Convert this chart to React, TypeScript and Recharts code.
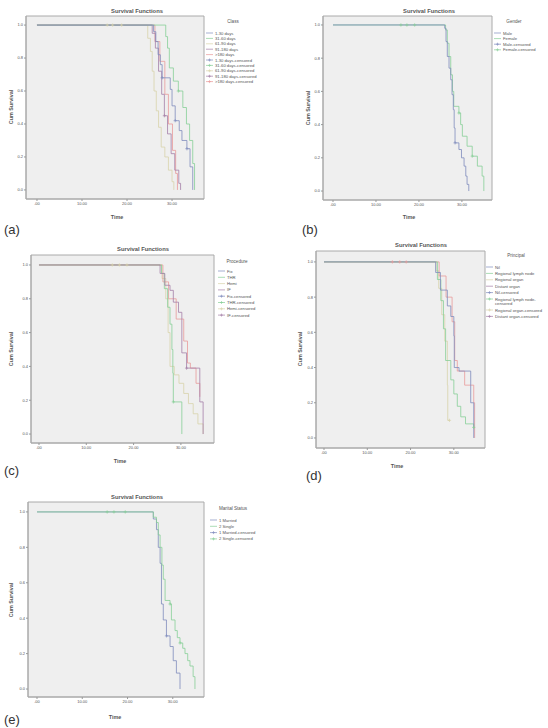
import React from 'react';
import { LineChart, Line, XAxis, YAxis, CartesianGrid, ReferenceArea } from 'recharts';

type Pt = { t: number; s: number };

// ---------- tick labels ----------
const X_TICKS = [0, 10, 20, 30];
const X_TICK_LABELS = ['.00', '10.00', '20.00', '30.00'];
const Y_TICKS = [0, 0.2, 0.4, 0.6, 0.8, 1.0];
const Y_TICK_LABELS = ['0.0', '0.2', '0.4', '0.6', '0.8', '1.0'];

// ---------- panel (a) ----------
const a1: Pt[] = [{ t: 0, s: 1 }, { t: 25.9, s: 0.96 }, { t: 26.4, s: 0.9 }, { t: 26.9, s: 0.82 }, { t: 27.4, s: 0.76 }, { t: 27.8, s: 0.68 }, { t: 29.6, s: 0.61 }, { t: 30.0, s: 0.51 }, { t: 30.7, s: 0.42 }, { t: 31.6, s: 0.36 }, { t: 32.2, s: 0.3 }, { t: 33.3, s: 0.25 }, { t: 34.0, s: 0.14 }, { t: 34.6, s: 0 }];
const a2: Pt[] = [{ t: 0, s: 1 }, { t: 28.6, s: 0.93 }, { t: 29.0, s: 0.86 }, { t: 29.4, s: 0.74 }, { t: 30.3, s: 0.66 }, { t: 31.4, s: 0.6 }, { t: 32.4, s: 0.5 }, { t: 33.2, s: 0.4 }, { t: 33.9, s: 0.3 }, { t: 34.6, s: 0.16 }, { t: 35.0, s: 0 }];
const a3: Pt[] = [{ t: 0, s: 1 }, { t: 24.6, s: 0.92 }, { t: 25.2, s: 0.84 }, { t: 25.6, s: 0.72 }, { t: 26.0, s: 0.6 }, { t: 26.5, s: 0.48 }, { t: 27.0, s: 0.38 }, { t: 27.6, s: 0.26 }, { t: 28.4, s: 0.2 }, { t: 29.2, s: 0.12 }, { t: 30.0, s: 0.05 }, { t: 30.4, s: 0 }];
const a4: Pt[] = [{ t: 0, s: 1 }, { t: 25.6, s: 0.95 }, { t: 26.3, s: 0.86 }, { t: 27.0, s: 0.72 }, { t: 27.7, s: 0.58 }, { t: 28.3, s: 0.45 }, { t: 29.0, s: 0.34 }, { t: 29.8, s: 0.22 }, { t: 30.6, s: 0.12 }, { t: 31.5, s: 0.04 }, { t: 31.9, s: 0 }];
const a5: Pt[] = [{ t: 0, s: 1 }, { t: 26.2, s: 0.9 }, { t: 27.3, s: 0.78 }, { t: 28.4, s: 0.58 }, { t: 29.2, s: 0.4 }, { t: 30.1, s: 0.24 }, { t: 30.8, s: 0.1 }, { t: 31.2, s: 0 }];
const aCensTan: Pt[] = [{ t: 15.6, s: 1 }, { t: 16.8, s: 1 }, { t: 18.8, s: 1 }];
const aCensBlue: Pt[] = [{ t: 27.8, s: 0.68 }, { t: 30.7, s: 0.42 }, { t: 33.3, s: 0.25 }];
const aCensGreen: Pt[] = [{ t: 31.4, s: 0.6 }];
const aCensPurple: Pt[] = [{ t: 28.3, s: 0.45 }];
const aGroups = ['1-30 days', '31-60 days', '61-90 days', '91-180 days', '>180 days'];

// ---------- panel (b) ----------
const b1: Pt[] = [{ t: 0, s: 1 }, { t: 26.0, s: 0.98 }, { t: 26.3, s: 0.9 }, { t: 26.6, s: 0.81 }, { t: 27.0, s: 0.74 }, { t: 27.4, s: 0.67 }, { t: 27.7, s: 0.58 }, { t: 28.0, s: 0.49 }, { t: 28.2, s: 0.38 }, { t: 28.4, s: 0.29 }, { t: 29.3, s: 0.25 }, { t: 29.9, s: 0.2 }, { t: 30.5, s: 0.15 }, { t: 30.9, s: 0.09 }, { t: 31.2, s: 0.04 }, { t: 31.6, s: 0 }];
const b2: Pt[] = [{ t: 0, s: 1 }, { t: 26.2, s: 0.97 }, { t: 26.6, s: 0.89 }, { t: 27.0, s: 0.81 }, { t: 27.4, s: 0.7 }, { t: 27.8, s: 0.6 }, { t: 28.1, s: 0.51 }, { t: 29.3, s: 0.47 }, { t: 29.7, s: 0.4 }, { t: 30.1, s: 0.33 }, { t: 31.2, s: 0.27 }, { t: 32.4, s: 0.21 }, { t: 33.6, s: 0.15 }, { t: 34.7, s: 0.09 }, { t: 35.1, s: 0 }];
const bCensGreen: Pt[] = [{ t: 15.8, s: 1 }, { t: 17.2, s: 1 }, { t: 19.0, s: 1 }, { t: 29.3, s: 0.47 }, { t: 32.4, s: 0.21 }];
const bCensBlue: Pt[] = [{ t: 28.4, s: 0.29 }];
const bGroups = ['Male', 'Female'];

// ---------- panel (c) ----------
const c1: Pt[] = [{ t: 0, s: 1 }, { t: 25.6, s: 0.95 }, { t: 26.6, s: 0.88 }, { t: 27.7, s: 0.85 }, { t: 28.4, s: 0.78 }, { t: 29.5, s: 0.72 }, { t: 30.2, s: 0.48 }, { t: 31.2, s: 0.39 }, { t: 34.0, s: 0.19 }, { t: 34.7, s: 0 }];
const c2: Pt[] = [{ t: 0, s: 1 }, { t: 25.9, s: 0.95 }, { t: 26.5, s: 0.86 }, { t: 27.2, s: 0.75 }, { t: 27.7, s: 0.65 }, { t: 28.1, s: 0.5 }, { t: 28.3, s: 0.36 }, { t: 28.4, s: 0.19 }, { t: 30.2, s: 0 }];
const c3: Pt[] = [{ t: 0, s: 1 }, { t: 26.0, s: 0.92 }, { t: 26.8, s: 0.8 }, { t: 27.3, s: 0.6 }, { t: 27.7, s: 0.4 }, { t: 28.6, s: 0.35 }, { t: 29.6, s: 0.3 }, { t: 30.6, s: 0.24 }, { t: 31.6, s: 0.18 }, { t: 32.6, s: 0.12 }, { t: 33.6, s: 0.06 }, { t: 34.7, s: 0 }];
const c4: Pt[] = [{ t: 0, s: 1 }, { t: 26.2, s: 0.9 }, { t: 27.4, s: 0.8 }, { t: 29.0, s: 0.68 }, { t: 30.6, s: 0.55 }, { t: 31.4, s: 0.42 }, { t: 32.0, s: 0.39 }, { t: 33.2, s: 0.3 }, { t: 34.0, s: 0.22 }];
const cCensTan: Pt[] = [{ t: 15.5, s: 1 }, { t: 17.0, s: 1 }, { t: 18.6, s: 1 }];
const cCensPurple: Pt[] = [{ t: 31.2, s: 0.39 }];
const cCensGreen: Pt[] = [{ t: 28.4, s: 0.19 }];
const cGroups = ['Fix', 'THR', 'Hemi', 'IF'];

// ---------- panel (d) ----------
const d1: Pt[] = [{ t: 0, s: 1 }, { t: 25.8, s: 0.94 }, { t: 26.9, s: 0.84 }, { t: 28.5, s: 0.75 }, { t: 29.3, s: 0.69 }, { t: 30.0, s: 0.58 }, { t: 30.1, s: 0.4 }, { t: 31.2, s: 0.38 }, { t: 33.9, s: 0.2 }, { t: 34.6, s: 0 }];
const d2: Pt[] = [{ t: 0, s: 1 }, { t: 26.2, s: 0.9 }, { t: 27.0, s: 0.78 }, { t: 27.6, s: 0.62 }, { t: 28.1, s: 0.44 }, { t: 29.3, s: 0.33 }, { t: 30.0, s: 0.25 }, { t: 30.8, s: 0.18 }, { t: 31.6, s: 0.12 }, { t: 32.7, s: 0.08 }, { t: 34.6, s: 0.06 }];
const d3: Pt[] = [{ t: 0, s: 1 }, { t: 25.9, s: 0.95 }, { t: 26.5, s: 0.85 }, { t: 27.2, s: 0.7 }, { t: 27.9, s: 0.55 }, { t: 28.5, s: 0.3 }, { t: 28.6, s: 0.1 }, { t: 29.0, s: 0.1 }];
const d4: Pt[] = [{ t: 0, s: 1 }, { t: 26.6, s: 0.92 }, { t: 28.2, s: 0.8 }, { t: 29.6, s: 0.66 }, { t: 30.2, s: 0.44 }, { t: 30.8, s: 0.38 }, { t: 32.5, s: 0.3 }, { t: 34.6, s: 0.2 }, { t: 34.8, s: 0 }];
const dCensRed: Pt[] = [{ t: 15.8, s: 1 }, { t: 17.5, s: 1 }, { t: 19.0, s: 1 }];
const dCensGreen: Pt[] = [{ t: 34.6, s: 0.06 }];
const dCensTan: Pt[] = [{ t: 29.0, s: 0.1 }];
const dGroups = ['Nil', 'Regional lymph node', 'Regional organ', 'Distant organ'];

// ---------- panel (e) ----------
const e1: Pt[] = [{ t: 0, s: 1 }, { t: 25.7, s: 0.97 }, { t: 26.4, s: 0.94 }, { t: 26.8, s: 0.87 }, { t: 27.2, s: 0.8 }, { t: 27.6, s: 0.7 }, { t: 27.9, s: 0.62 }, { t: 28.3, s: 0.5 }, { t: 29.4, s: 0.48 }, { t: 29.7, s: 0.39 }, { t: 30.5, s: 0.33 }, { t: 31.0, s: 0.29 }, { t: 31.6, s: 0.26 }, { t: 32.2, s: 0.23 }, { t: 32.7, s: 0.2 }, { t: 33.3, s: 0.16 }, { t: 33.8, s: 0.13 }, { t: 34.5, s: 0.07 }, { t: 34.9, s: 0 }];
const e2: Pt[] = [{ t: 0, s: 1 }, { t: 25.7, s: 0.96 }, { t: 26.4, s: 0.9 }, { t: 26.8, s: 0.8 }, { t: 27.2, s: 0.71 }, { t: 27.5, s: 0.48 }, { t: 27.9, s: 0.39 }, { t: 28.6, s: 0.3 }, { t: 29.4, s: 0.24 }, { t: 30.1, s: 0.16 }, { t: 30.8, s: 0.09 }, { t: 31.6, s: 0 }];
const eCensGreen: Pt[] = [{ t: 15.5, s: 1 }, { t: 17.0, s: 1 }, { t: 19.5, s: 1 }, { t: 29.4, s: 0.48 }, { t: 31.6, s: 0.26 }];
const eCensBlue: Pt[] = [{ t: 28.6, s: 0.3 }];
const eGroups = ['1 Married', '2 Single'];

// ---------- styling ----------
const BLUE = '#7f8cbd';
const GREEN = '#86cf97';
const TAN = '#d8d3ab';
const PURPLE = '#a57fa8';
const RED = '#e99a9a';
const TEXT = '#555';
const FONT = '"Liberation Sans", Arial, sans-serif';

type Series = { data: Pt[]; color: string };
type PanelCfg = {
  frame: { L: number; T: number; R: number; B: number };
  xDomain: [number, number];
  yDomain: [number, number];
  series: Series[];
  censors: Series[];
};

const PANELS: PanelCfg[] = [
  { frame: { L: 26, T: 16, R: 204, B: 199 }, xDomain: [-2.44, 37.1], yDomain: [-0.055, 1.055],
    series: [{ data: a3, color: TAN }, { data: a5, color: RED }, { data: a4, color: PURPLE }, { data: a2, color: GREEN }, { data: a1, color: BLUE }],
    censors: [{ data: aCensTan, color: TAN }, { data: aCensBlue, color: BLUE }, { data: aCensGreen, color: GREEN }, { data: aCensPurple, color: PURPLE }] },
  { frame: { L: 323, T: 16, R: 492, B: 200 }, xDomain: [-2.33, 37.0], yDomain: [-0.054, 1.054],
    series: [{ data: b2, color: GREEN }, { data: b1, color: BLUE }],
    censors: [{ data: bCensGreen, color: GREEN }, { data: bCensBlue, color: BLUE }] },
  { frame: { L: 31, T: 255, R: 214, B: 443 }, xDomain: [-1.69, 37.0], yDomain: [-0.053, 1.059],
    series: [{ data: c3, color: TAN }, { data: c4, color: RED }, { data: c2, color: GREEN }, { data: c1, color: PURPLE }],
    censors: [{ data: cCensTan, color: TAN }, { data: cCensPurple, color: PURPLE }, { data: cCensGreen, color: GREEN }] },
  { frame: { L: 316, T: 251, R: 485, B: 448 }, xDomain: [-1.85, 37.2], yDomain: [-0.057, 1.062],
    series: [{ data: d3, color: TAN }, { data: d4, color: RED }, { data: d2, color: GREEN }, { data: d1, color: BLUE }],
    censors: [{ data: dCensRed, color: RED }, { data: dCensGreen, color: GREEN }, { data: dCensTan, color: TAN }] },
  { frame: { L: 28, T: 502, R: 204, B: 697 }, xDomain: [-1.99, 36.9], yDomain: [-0.045, 1.056],
    series: [{ data: e2, color: BLUE }, { data: e1, color: GREEN }],
    censors: [{ data: eCensGreen, color: GREEN }, { data: eCensBlue, color: BLUE }] },
];

const makePlus = (color: string) => (props: any) => {
  const { cx, cy, index } = props;
  if (cx == null || cy == null) return <g key={index} />;
  return (
    <path key={index} d={`M${cx - 1.6},${cy}h3.2M${cx},${cy - 1.6}v3.2`} stroke={color} strokeWidth={0.7} fill="none" />
  );
};

const YW = 20;
const XH = 12;
const PAD_L = 26, PAD_T = 4, PAD_R = 4, PAD_B = 14;

function Panel({ cfg }: { cfg: PanelCfg }) {
  const { L, T, R, B } = cfg.frame;
  const W = R - L + PAD_L + PAD_R;
  const H = B - T + PAD_T + PAD_B;
  return (
    <div style={{ position: 'absolute', left: L - PAD_L, top: T - PAD_T, width: W, height: H }}>
      <LineChart width={W} height={H} margin={{ top: PAD_T, right: PAD_R, left: PAD_L - YW, bottom: PAD_B - XH }}>
        <CartesianGrid fill="#efefef" horizontal={false} vertical={false} />
        <XAxis type="number" dataKey="t" domain={cfg.xDomain} allowDataOverflow ticks={X_TICKS}
          tickFormatter={(v: number) => X_TICK_LABELS[X_TICKS.indexOf(v)]}
          height={XH} tickSize={2} tickMargin={1} axisLine={{ stroke: '#a8a8a8' }} tickLine={{ stroke: '#999' }}
          tick={{ fontSize: 4, fill: TEXT, fontFamily: FONT }} interval={0} />
        <YAxis type="number" dataKey="s" domain={cfg.yDomain} allowDataOverflow ticks={Y_TICKS}
          tickFormatter={(v: number) => Y_TICK_LABELS[Y_TICKS.findIndex((y) => Math.abs(y - v) < 1e-6)]}
          width={YW} tickSize={2} tickMargin={1} axisLine={{ stroke: '#a8a8a8' }} tickLine={{ stroke: '#999' }}
          tick={{ fontSize: 4, fill: TEXT, fontFamily: FONT }} interval={0} />
        <ReferenceArea x1={cfg.xDomain[0]} x2={cfg.xDomain[1]} y1={cfg.yDomain[0]} y2={cfg.yDomain[1]}
          fill="none" fillOpacity={0} stroke="#aaaaaa" strokeWidth={1} ifOverflow="visible" />
        {cfg.series.map((s, i) => (
          <Line key={'s' + i} data={s.data} dataKey="s" type="stepAfter" stroke={s.color} strokeWidth={0.8}
            dot={false} activeDot={false} isAnimationActive={false} />
        ))}
        {cfg.censors.map((s, i) => (
          <Line key={'c' + i} data={s.data} dataKey="s" stroke="none" dot={makePlus(s.color)}
            activeDot={false} isAnimationActive={false} />
        ))}
      </LineChart>
    </div>
  );
}

// ---------- annotations (titles, axis titles, legends) ----------
type LegendItem = { label: string[]; color: string; cens: boolean };
type LegendCfg = { title: string; titleX: number; titleY: number; x0: number; y0: number; step: number; items: LegendItem[] };

const mkItems = (groups: string[], colors: string[], wrapCens: number[] = []): LegendItem[] => [
  ...groups.map((g, i) => ({ label: [g], color: colors[i], cens: false })),
  ...groups.map((g, i) => ({ label: wrapCens.includes(i) ? [g + '-', 'censored'] : [g + '-censored'], color: colors[i], cens: true })),
];

const LEGENDS: LegendCfg[] = [
  { title: 'Class', titleX: 233, titleY: 23, x0: 206, y0: 33, step: 5.4, items: mkItems(aGroups, [BLUE, GREEN, TAN, PURPLE, RED]) },
  { title: 'Gender', titleX: 514, titleY: 23, x0: 494, y0: 33, step: 5.6, items: mkItems(bGroups, [BLUE, GREEN]) },
  { title: 'Procedure', titleX: 237, titleY: 263, x0: 218, y0: 271, step: 6.3, items: mkItems(cGroups, [BLUE, GREEN, TAN, PURPLE]) },
  { title: 'Principal', titleX: 516, titleY: 257, x0: 486, y0: 267, step: 6.4, items: mkItems(dGroups, [BLUE, GREEN, TAN, PURPLE], [1]) },
  { title: 'Marital Status', titleX: 233, titleY: 510, x0: 210, y0: 520, step: 6.3, items: mkItems(eGroups, [BLUE, GREEN]) },
];

const TITLES = [
  { x: 137, y: 13 }, { x: 429, y: 13 }, { x: 143, y: 251 }, { x: 421, y: 247 }, { x: 137, y: 499 },
];
const XLABELS = [
  { x: 117, y: 219 }, { x: 409, y: 219 }, { x: 120, y: 463 }, { x: 397, y: 468 }, { x: 115, y: 719 },
];
const YLABELS = [
  { x: 11, y: 107 }, { x: 308, y: 108 }, { x: 11, y: 349 }, { x: 300, y: 349 }, { x: 11, y: 600 },
];
const PANEL_LABELS = [
  { t: '(a)', x: 4, y: 234 }, { t: '(b)', x: 302, y: 234 }, { t: '(c)', x: 4, y: 475 }, { t: '(d)', x: 306, y: 480 }, { t: '(e)', x: 4, y: 724 },
];

function Legend({ cfg }: { cfg: LegendCfg }) {
  let y = cfg.y0;
  const rows: React.ReactNode[] = [];
  cfg.items.forEach((it, i) => {
    const yy = y;
    rows.push(
      <g key={i}>
        <line x1={cfg.x0} x2={cfg.x0 + 7} y1={yy} y2={yy} stroke={it.color} strokeWidth={0.7} />
        {it.cens ? <path d={`M${cfg.x0 + 2},${yy}h3M${cfg.x0 + 3.5},${yy - 1.5}v3`} stroke={it.color} strokeWidth={0.6} /> : null}
        {it.label.map((ln, j) => (
          <text key={j} x={cfg.x0 + 9} y={yy + 1.5 + j * 4.6} fontSize={4.2} fill={TEXT} fontFamily={FONT}>{ln}</text>
        ))}
      </g>
    );
    y += cfg.step + (it.label.length - 1) * 4.6;
  });
  return (
    <g>
      <text x={cfg.titleX} y={cfg.titleY} fontSize={4.6} fill={TEXT} fontFamily={FONT} textAnchor="middle">{cfg.title}</text>
      {rows}
    </g>
  );
}

export default function App() {
  return (
    <div style={{ position: 'absolute', left: 0, top: 0, width: 548, height: 728, background: '#fff', overflow: 'hidden' }}>
      {PANELS.map((p, i) => (
        <Panel key={i} cfg={p} />
      ))}
      <svg width={548} height={728} style={{ position: 'absolute', left: 0, top: 0, pointerEvents: 'none' }}>
        {TITLES.map((t, i) => (
          <text key={'t' + i} x={t.x} y={t.y} fontSize={5.8} fontWeight="bold" fill={TEXT} fontFamily={FONT} textAnchor="middle">Survival Functions</text>
        ))}
        {XLABELS.map((t, i) => (
          <text key={'x' + i} x={t.x} y={t.y} fontSize={5.4} fontWeight="bold" fill={TEXT} fontFamily={FONT} textAnchor="middle">Time</text>
        ))}
        {YLABELS.map((t, i) => (
          <text key={'y' + i} x={t.x} y={t.y} fontSize={5.4} fontWeight="bold" fill={TEXT} fontFamily={FONT} textAnchor="middle"
            transform={`rotate(-90 ${t.x} ${t.y})`} dy={2}>Cum Survival</text>
        ))}
        {LEGENDS.map((l, i) => (
          <Legend key={'l' + i} cfg={l} />
        ))}
        {PANEL_LABELS.map((p, i) => (
          <text key={'p' + i} x={p.x} y={p.y} fontSize={13} fill="#333" fontFamily={FONT}>{p.t}</text>
        ))}
      </svg>
    </div>
  );
}
